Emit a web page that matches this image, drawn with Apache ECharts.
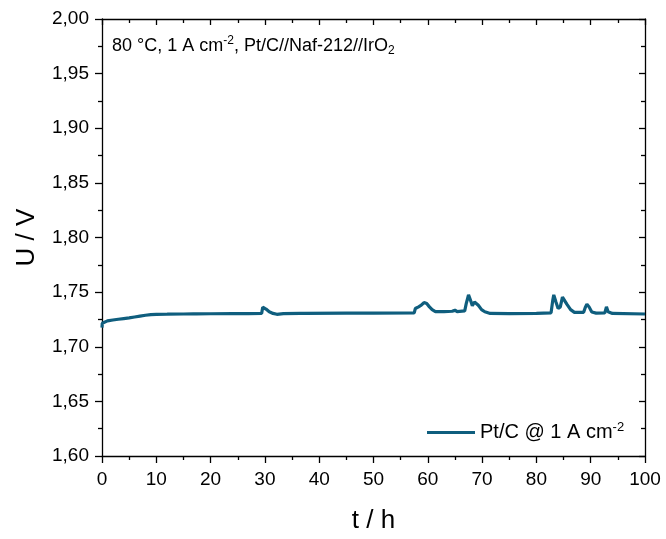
<!DOCTYPE html>
<html>
<head>
<meta charset="utf-8">
<script src="https://cdn.jsdelivr.net/npm/echarts@6/dist/echarts.min.js"></script>
<style>
  html, body { margin: 0; padding: 0; background: #fff; }
  #chart { width: 666px; height: 539px; }
</style>
</head>
<body>
<div id="chart"></div>
<script>
// time in hours and cell voltage
var timeH = [0, 0.05, 0.3, 1, 2, 3, 4, 5, 6, 7, 8, 9, 10, 12, 15, 16.8, 17, 17.4, 20, 24, 27,
  29.4, 29.6, 30.2, 30.8, 31.5, 32.2, 33.4, 36.5, 36.8, 37.3, 45, 50, 57.5, 57.7, 58.3, 58.8,
  59.3, 59.8, 60.3, 60.8, 61.4, 63, 64.5, 65, 65.4, 66.8, 67.1, 67.5, 67.9, 68.2, 68.6, 68.9,
  69.3, 69.9, 70.5, 71.5, 75, 80, 82.7, 83.0, 83.2, 83.6, 84.0, 84.4, 84.8, 85.1, 85.6, 86.3,
  87.0, 88.7, 89.0, 89.3, 89.7, 90.2, 91, 92.6, 92.9, 93.2, 94, 100];
var voltage = [1.7175, 1.7215, 1.7228, 1.7237, 1.7245, 1.7252, 1.7258, 1.7264, 1.7272, 1.7280,
  1.7288, 1.7294, 1.7297, 1.7298, 1.7300, 1.7302, 1.7308, 1.7301, 1.7302, 1.7303, 1.7304,
  1.7305, 1.7362, 1.7345, 1.7320, 1.7305, 1.7297, 1.7303, 1.7305, 1.7315, 1.7305, 1.7307,
  1.7307, 1.7310, 1.7350, 1.7365, 1.7380, 1.7405, 1.7395, 1.7365, 1.7340, 1.7322, 1.7322,
  1.7325, 1.7335, 1.7322, 1.7328, 1.7400, 1.7475, 1.7420, 1.7375, 1.7410, 1.7428, 1.7380,
  1.7340, 1.7320, 1.7305, 1.7303, 1.7305, 1.7310, 1.7420, 1.7475, 1.7410, 1.7350, 1.7365,
  1.7455, 1.7450, 1.7390, 1.7340, 1.7315, 1.7315, 1.7360, 1.7390, 1.7365, 1.7318, 1.7308,
  1.7310, 1.7365, 1.7320, 1.7305, 1.7300];

var seriesName = "Pt/C @ 1 A cm-2";
var lineColor = "#0f5e7e";
var font = "Liberation Sans, Arial, sans-serif";

var points = timeH.map(function (t, i) { return [t, voltage[i]]; });

var myChart = echarts.init(document.getElementById("chart"));

// shared frame axis styles
var frameLine = { show: true, onZero: false, lineStyle: { color: "#000", width: 1.3 } };

myChart.setOption({
  animation: false,
  backgroundColor: "#fff",
  title: {
    text: "{a|80 °C, 1 A cm}{sup|-2}{a|, Pt/C//Naf-212//IrO}{sub|2}",
    left: 112,
    top: 35,
    padding: 0,
    textStyle: {
      fontWeight: "normal",
      rich: {
        a: { fontFamily: font, fontSize: 18, fontWeight: "normal", color: "#000" },
        sup: { fontFamily: font, fontSize: 12, fontWeight: "normal", color: "#000", padding: [0, 0, 10, 0] },
        sub: { fontFamily: font, fontSize: 12, fontWeight: "normal", color: "#000", padding: [10, 0, 0, 0] }
      }
    }
  },
  legend: {
    data: [seriesName],
    left: 427,
    top: 421,
    padding: 0,
    icon: "rect",
    itemWidth: 48,
    itemHeight: 3,
    itemGap: 0,
    formatter: function () {
      return "{a|Pt/C @ 1 A cm}{s|-2}";
    },
    textStyle: {
      rich: {
        a: { fontFamily: font, fontSize: 20, color: "#000" },
        s: { fontFamily: font, fontSize: 13, color: "#000", padding: [0, 0, 10, 0] }
      }
    }
  },
  grid: {
    left: 102,
    right: 21,
    top: 19,
    bottom: 82
  },
  xAxis: [
    {
      type: "value",
      min: 0,
      max: 100,
      interval: 10,
      position: "bottom",
      name: "t / h",
      nameLocation: "middle",
      nameGap: 52,
      nameTextStyle: { fontFamily: font, fontSize: 26, color: "#000" },
      axisLine: frameLine,
      axisTick: { show: true, length: 7, lineStyle: { color: "#000", width: 1.3 } },
      minorTick: { show: true, splitNumber: 2, length: 4, lineStyle: { color: "#000", width: 1.3 } },
      axisLabel: { margin: 14, fontFamily: font, fontSize: 19, color: "#000" },
      splitLine: { show: false }
    },
    {
      type: "value",
      min: 0,
      max: 100,
      interval: 10,
      position: "top",
      axisLine: frameLine,
      axisTick: { show: true, inside: true, length: 6, lineStyle: { color: "#000", width: 1.3 } },
      minorTick: { show: true, splitNumber: 2, length: 4, lineStyle: { color: "#000", width: 1.3 } },
      axisLabel: { show: false },
      splitLine: { show: false }
    }
  ],
  yAxis: [
    {
      type: "value",
      min: 1.6,
      max: 2.0,
      interval: 0.05,
      position: "left",
      name: "U / V",
      nameLocation: "middle",
      nameGap: 62,
      nameTextStyle: { fontFamily: font, fontSize: 26, color: "#000" },
      axisLine: frameLine,
      axisTick: { show: true, length: 7, lineStyle: { color: "#000", width: 1.3 } },
      minorTick: { show: true, splitNumber: 2, length: 4, lineStyle: { color: "#000", width: 1.3 } },
      axisLabel: {
        margin: 13,
        fontFamily: font,
        fontSize: 19,
        color: "#000",
        formatter: function (v) {
          return v.toFixed(2).replace(".", ",");
        }
      },
      splitLine: { show: false }
    },
    {
      type: "value",
      min: 1.6,
      max: 2.0,
      interval: 0.05,
      position: "right",
      axisLine: frameLine,
      axisTick: { show: true, inside: true, length: 6, lineStyle: { color: "#000", width: 1.3 } },
      minorTick: { show: true, splitNumber: 2, length: 4, lineStyle: { color: "#000", width: 1.3 } },
      axisLabel: { show: false },
      splitLine: { show: false }
    }
  ],
  series: [
    {
      name: seriesName,
      type: "line",
      xAxisIndex: 0,
      yAxisIndex: 0,
      showSymbol: false,
      symbol: "none",
      itemStyle: { color: lineColor },
      lineStyle: { color: lineColor, width: 3.2 },
      data: points
    }
  ]
});
</script>
</body>
</html>
